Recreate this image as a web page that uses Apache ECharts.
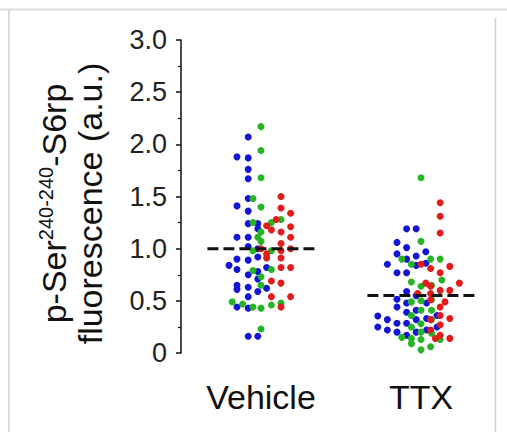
<!DOCTYPE html>
<html>
<head>
<meta charset="utf-8">
<script src="https://cdn.jsdelivr.net/npm/echarts@6/dist/echarts.min.js"></script>
<style>
html,body{margin:0;padding:0;background:#fff;}
#chart{width:507px;height:432px;}
</style>
</head>
<body>
<div id="chart"></div>
<script>
// ---- data ----
var categories = ['Vehicle', 'TTX'];
var yTicks = [0, 0.5, 1.0, 1.5, 2.0, 2.5, 3.0];
// [horizontal jitter (category units), value]
var vehicleBlue = [[-0.08,2.07],[-0.15,1.88],[-0.08,1.87],[-0.08,1.76],[-0.08,1.67],[-0.08,1.48],[-0.15,1.41],[-0.08,1.36],[-0.08,1.24],[-0.02,1.24],[-0.02,1.19],[-0.15,1.11],[-0.08,1.11],[-0.08,1.02],[-0.02,1.0],[-0.2,0.84],[-0.15,0.90],[-0.08,0.89],[-0.02,0.92],[0.035,0.82],[-0.15,0.80],[-0.08,0.75],[-0.02,0.78],[-0.02,0.71],[-0.15,0.65],[-0.15,0.61],[-0.08,0.63],[-0.02,0.59],[0.035,0.62],[-0.08,0.54],[-0.15,0.44],[-0.08,0.43],[-0.08,0.16],[-0.02,0.16]];
var vehicleGreen = [[0.0,2.17],[0.0,1.94],[0.0,1.68],[-0.05,1.48],[0.0,1.40],[0.125,1.28],[-0.05,1.25],[0.065,1.25],[0.0,1.16],[-0.02,1.11],[0.0,1.07],[0.065,0.98],[-0.05,0.98],[0.065,0.80],[-0.05,0.79],[0.0,0.73],[0.0,0.65],[-0.18,0.49],[-0.115,0.47],[-0.05,0.44],[0.0,0.43],[0.065,0.46],[0.125,0.48],[0.0,0.23]];
var vehicleRed = [[0.125,1.50],[0.125,1.39],[0.185,1.34],[0.095,1.28],[0.035,1.22],[0.185,1.21],[0.065,1.18],[0.125,1.16],[0.185,1.11],[0.125,1.05],[0.0,1.0],[0.035,0.95],[0.035,0.91],[0.125,0.98],[0.185,1.0],[0.125,0.91],[0.125,0.82],[0.185,0.82],[0.065,0.69],[0.125,0.67],[0.065,0.54],[0.185,0.54],[0.125,0.44]];
var ttxBlue = [[-0.09,1.19],[-0.03,1.19],[-0.15,1.06],[-0.09,1.01],[-0.15,0.95],[0.03,0.97],[-0.03,0.93],[-0.09,0.90],[-0.21,0.85],[-0.03,0.84],[0.03,0.86],[-0.15,0.77],[-0.09,0.77],[-0.09,0.59],[-0.03,0.55],[-0.15,0.515],[-0.15,0.44],[-0.09,0.48],[-0.09,0.39],[-0.03,0.41],[0.035,0.48],[-0.27,0.355],[-0.21,0.32],[-0.27,0.25],[-0.21,0.22],[-0.15,0.285],[-0.15,0.20],[-0.09,0.285],[-0.09,0.17],[-0.03,0.32],[-0.03,0.20],[0.035,0.33],[0.035,0.22],[0.1,0.36],[0.1,0.25]];
var ttxGreen = [[0.0,1.68],[0.0,1.07],[-0.12,0.90],[0.06,0.90],[0.12,0.90],[-0.06,0.85],[-0.06,0.68],[0.0,0.64],[0.066,0.65],[0.13,0.70],[-0.06,0.49],[0.0,0.50],[0.066,0.51],[-0.06,0.36],[0.0,0.41],[0.066,0.41],[0.0,0.28],[0.066,0.32],[-0.06,0.25],[0.0,0.20],[0.066,0.19],[-0.12,0.15],[-0.06,0.14],[0.0,0.13],[0.12,0.13],[-0.06,0.09],[0.06,0.06],[0.0,0.03]];
var ttxRed = [[0.12,1.44],[0.12,1.31],[0.12,1.15],[0.0,0.85],[0.18,0.83],[0.06,0.81],[0.12,0.77],[0.03,0.67],[0.24,0.67],[0.06,0.64],[0.12,0.60],[0.18,0.60],[-0.02,0.57],[0.06,0.57],[0.06,0.51],[0.15,0.49],[0.12,0.44],[0.12,0.36],[0.06,0.32],[0.18,0.33],[0.12,0.27],[0.06,0.22],[0.09,0.14],[0.18,0.14],[0.12,0.17]];
var vehicleMean = 1.0;
var ttxMean = 0.55;
var meanHalfWidth = [-0.335, 0.35];

// ---- build ----
var FONT = '"Liberation Sans", Arial, Helvetica, sans-serif';
var BLUE = '#1414d2', GREEN = '#24b424', RED = '#e01c1c';
function place(arr, idx) { return arr.map(function (d) { return [idx + d[0], d[1]]; }); }
function dots(name, data, color) {
  return { name: name, type: 'scatter', xAxisIndex: 0, yAxisIndex: 0, data: data,
    symbolSize: 7, itemStyle: { color: color, opacity: 1 }, silent: true, animation: false };
}
function meanLine(idx, v) {
  return { type: 'line', xAxisIndex: 0, yAxisIndex: 0, z: 5, symbol: 'none', silent: true, animation: false,
    data: [[idx + meanHalfWidth[0], v], [idx + meanHalfWidth[1], v]],
    lineStyle: { color: '#111', width: 3, type: [11, 5] } };
}

var chart = echarts.init(document.getElementById('chart'), null, { renderer: 'svg' });
chart.setOption({
  backgroundColor: '#fff',
  animation: false,
  grid: { left: 181, top: 40, width: 320, height: 313 },
  xAxis: [
    { type: 'value', min: -0.5, max: 1.5, show: false },
    { type: 'category', data: categories, position: 'bottom',
      axisLine: { show: false }, axisTick: { show: false }, splitLine: { show: false },
      axisLabel: { fontSize: 34, color: '#111', fontFamily: FONT, margin: 27 } }
  ],
  yAxis: {
    type: 'value', min: yTicks[0], max: yTicks[yTicks.length - 1], interval: 0.5,
    axisLine: { show: true, onZero: false, lineStyle: { color: '#111', width: 1.5 } },
    axisTick: { show: true, length: 5, lineStyle: { color: '#111', width: 1.5 } },
    minorTick: { show: true, splitNumber: 2, length: 3, lineStyle: { color: '#111', width: 1.2 } },
    splitLine: { show: false },
    axisLabel: { fontSize: 27, color: '#222', fontFamily: FONT, margin: 14,
      formatter: function (v) { return v === 0 ? '0' : v.toFixed(1); } },
    name: '{a|p-Ser}{s|240-240}{a|-S6rp}\n{a|fluorescence (a.u.)}',
    nameLocation: 'middle', nameRotate: 90, nameGap: 73,
    nameTextStyle: { fontFamily: FONT, color: '#111', fontSize: 34, lineHeight: 36,
      padding: [0, 14, 0, 0],
      rich: {
        a: { fontSize: 34, lineHeight: 36, fontFamily: FONT, color: '#111' },
        s: { fontSize: 20, lineHeight: 20, verticalAlign: 'top', fontFamily: FONT, color: '#111' }
      } }
  },
  graphic: [
    { type: 'line', shape: { x1: 0, y1: 9.5, x2: 507, y2: 9.5 }, style: { stroke: '#dcdcdc', lineWidth: 2 }, silent: true },
    { type: 'line', shape: { x1: 9, y1: 10, x2: 9, y2: 432 }, style: { stroke: '#dcdcdc', lineWidth: 2 }, silent: true },
    { type: 'line', shape: { x1: 495.5, y1: 18, x2: 495.5, y2: 432 }, style: { stroke: '#cfcfcf', lineWidth: 1.5 }, silent: true }
  ],
  series: [
    dots('Vehicle blue', place(vehicleBlue, 0), BLUE),
    dots('Vehicle green', place(vehicleGreen, 0), GREEN),
    dots('Vehicle red', place(vehicleRed, 0), RED),
    dots('TTX blue', place(ttxBlue, 1), BLUE),
    dots('TTX green', place(ttxGreen, 1), GREEN),
    dots('TTX red', place(ttxRed, 1), RED),
    meanLine(0, vehicleMean),
    meanLine(1, ttxMean)
  ]
});
</script>
</body>
</html>
